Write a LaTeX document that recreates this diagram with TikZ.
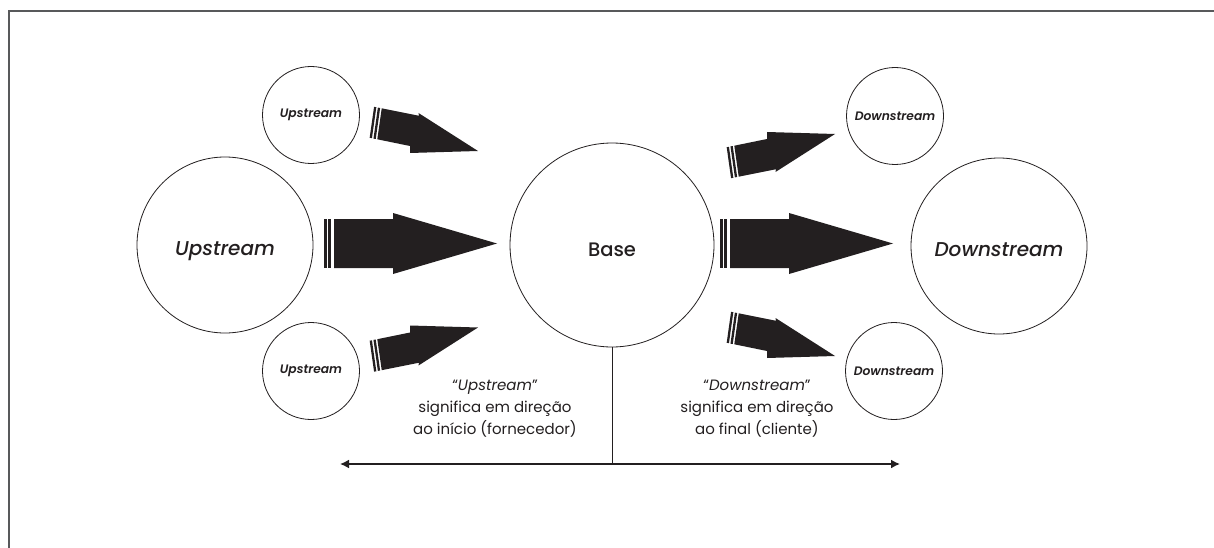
\documentclass[tikz,border=0pt]{standalone}
\usepackage{fontspec}
\setmainfont{Poppins}
\newfontfamily\popmed{Poppins Medium}[ItalicFont={Poppins Medium Italic}]
\newfontfamily\popsemi{Poppins SemiBold}[ItalicFont={Poppins SemiBold Italic}]
\usetikzlibrary{calc,arrows.meta}
\definecolor{ink}{HTML}{231F20}
\definecolor{framegray}{HTML}{58595B}
\tikzset{
  bigarrow/.pic={
    \fill[ink] (-163,-24.5) -- (-104,-24.5) -- (-104,-30.5) -- (0,0) -- (-104,30.5) -- (-104,24.5) -- (-163,24.5) -- cycle;
    \fill[ink] (-173,-24.5) rectangle (-170.3,24.5);
    \fill[ink] (-169.3,-24.5) rectangle (-166,24.5);
  },
  smallarrow/.pic={
    \fill[ink] (-96.3,-42.7) -- (-59,-35.2) -- (-59.5,-38) -- (0,0) -- (-68,2) -- (-68,-5) -- (-100.7,-11.7) -- cycle;
    \draw[ink,line width=2.3pt] (-99.0,-43.2) -- (-103.4,-12.2);
    \draw[ink,line width=2.3pt] (-102.8,-44.0) -- (-107.2,-13.0);
  }
}
\begin{document}
\begin{tikzpicture}[x=1pt,y=-1pt,
  bubble/.style={circle,draw=ink,line width=0.8pt,inner sep=0pt,text=ink},
  bigbubble/.style={bubble,minimum size=176pt,text height=20pt,text depth=0pt,font=\popmed\fontsize{20}{24}\selectfont\itshape},
  smallbubble/.style={bubble,minimum size=97pt,font=\popsemi\fontsize{12.3}{14}\selectfont\itshape},
  basebubble/.style={bubble,minimum size=204pt,text height=22pt,text depth=0pt,font=\popmed\fontsize{19.5}{22}\selectfont},
  note/.style={align=center,text=ink,font=\fontsize{15}{22}\selectfont}]
\useasboundingbox (0,0) rectangle (1214,548);
\fill[white] (0,0) rectangle (1214,548);
\draw[framegray,line width=1.3pt] (9,548) -- (9,11) -- (1214,11);

\node[bigbubble] (up) at (225,245) {Upstream};
\node[basebubble] (base) at (612,245) {Base};
\node[bigbubble] (down) at (999,246) {Downstream};
\node[smallbubble] (up1) at (311,115) {Upstream};
\node[smallbubble] (up2) at (311,371) {Upstream};
\node[smallbubble] (down1) at (895,116) {Downstream};
\node[smallbubble] (down2) at (894,371) {Downstream};

\pic (a1) at (497,243.5) {bigarrow};
\pic (a2) at (893,243.5) {bigarrow};
\pic (a3) at (478,151) {smallarrow};
\pic[yscale=-1] (a4) at (478,327.5) {smallarrow};
\pic[yscale=-1] (a5) at (835,134) {smallarrow};
\pic (a6) at (835,356) {smallarrow};

\coordinate (axis) at (612,464);
\coordinate (west) at (340,464);
\coordinate (east) at (900,464);
\draw[ink,line width=1pt] (base.south) -- (axis);
\draw[ink,line width=1.6pt,{Latex[length=9pt,width=9pt]}-{Latex[length=9pt,width=9pt]}] (west) -- (east);

\node[note] (lnote) at (495,409) {“\textit{Upstream}”\\significa em direção\\ao início (fornecedor)};
\node[note] (rnote) at (757,409) {“\textit{Downstream}”\\significa em direção\\ao final (cliente)};
\end{tikzpicture}
\end{document}
